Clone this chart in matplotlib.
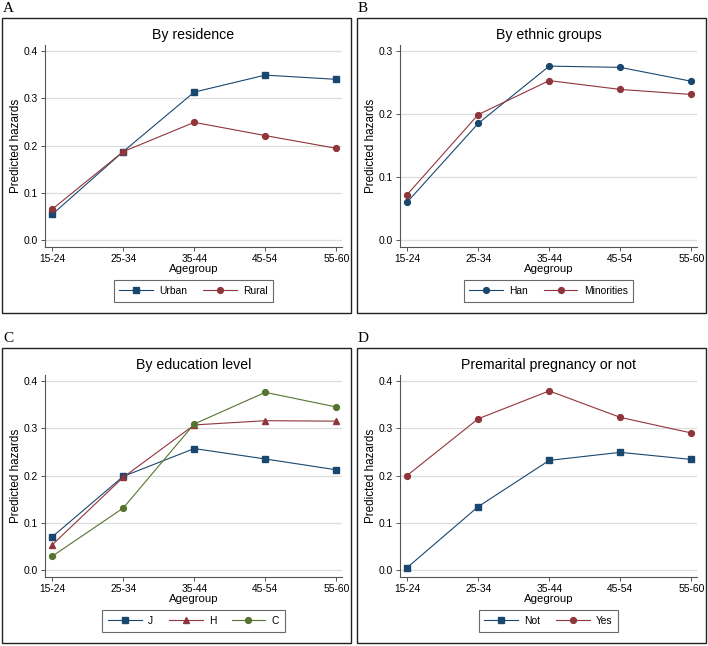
import matplotlib
matplotlib.use("Agg")
import matplotlib.pyplot as plt
from matplotlib.patches import Rectangle

plt.rcParams['font.family'] = ['Liberation Sans', 'DejaVu Sans']

agegroups = ['15-24', '25-34', '35-44', '45-54', '55-60']

urban = [0.054, 0.187, 0.313, 0.349, 0.340]
rural = [0.065, 0.187, 0.249, 0.221, 0.194]

han = [0.060, 0.185, 0.276, 0.274, 0.252]
minorities = [0.072, 0.199, 0.253, 0.239, 0.231]

edu_j = [0.070, 0.198, 0.257, 0.235, 0.212]
edu_h = [0.053, 0.196, 0.307, 0.316, 0.315]
edu_c = [0.029, 0.131, 0.309, 0.376, 0.345]

preg_not = [0.005, 0.134, 0.232, 0.249, 0.234]
preg_yes = [0.200, 0.320, 0.379, 0.323, 0.290]

navy = '#1a476f'
maroon = '#90353b'
green = '#55752f'

W, H = 708, 646
fig = plt.figure(figsize=(W / 100, H / 100), dpi=100)

panels = [
    ('A', 'By residence', 0.4, [0.0, 0.1, 0.2, 0.3, 0.4],
     [(urban, 'Urban', navy, 's'), (rural, 'Rural', maroon, 'o')], 0, 0),
    ('B', 'By ethnic groups', 0.3, [0.0, 0.1, 0.2, 0.3],
     [(han, 'Han', navy, 'o'), (minorities, 'Minorities', maroon, 'o')], 355, 0),
    ('C', 'By education level', 0.4, [0.0, 0.1, 0.2, 0.3, 0.4],
     [(edu_j, 'J', navy, 's'), (edu_h, 'H', maroon, '^'), (edu_c, 'C', green, 'o')], 0, 330),
    ('D', 'Premarital pregnancy or not', 0.4, [0.0, 0.1, 0.2, 0.3, 0.4],
     [(preg_not, 'Not', navy, 's'), (preg_yes, 'Yes', maroon, 'o')], 355, 330),
]

for letter, title, ymax, yticks, series, ox, oy in panels:
    # panel frame
    fig.patches.append(Rectangle(((ox + 2) / W, 1 - (oy + 313) / H), 349 / W, 295 / H,
                                 transform=fig.transFigure, fill=False,
                                 edgecolor='#222222', linewidth=1.0))
    fig.text((ox + 3) / W, 1 - (oy + 9) / H, letter, family='Liberation Serif',
             fontsize=11, va='center', ha='left')

    ax = fig.add_axes([(ox + 45) / W, 1 - (oy + 247) / H, 297 / W, 202 / H])
    x = range(len(agegroups))
    for vals, lab, col, mk in series:
        ms = 4.8 if mk == '^' else 4.2
        ax.plot(x, vals, color=col, marker=mk, markersize=ms, linewidth=0.8, label=lab)

    ax.set_xlim(-0.1, 4.08)
    ax.set_ylim(-ymax * 7 / 189, ymax + ymax * 6 / 189)
    ax.set_xticks(list(x))
    ax.set_xticklabels(agegroups)
    ax.set_yticks(yticks)
    ax.set_yticklabels([f'{v:.1f}' for v in yticks])
    ax.grid(axis='y', color='#dddddd', linewidth=0.9)
    ax.set_axisbelow(True)
    for s in ['top', 'right']:
        ax.spines[s].set_visible(False)
    for s in ['left', 'bottom']:
        ax.spines[s].set_color('#555555')
        ax.spines[s].set_linewidth(0.8)
    ax.tick_params(labelsize=7.4, length=3, width=0.7, color='#555555', pad=2)
    ax.set_title(title, fontsize=10.2, pad=4)
    ax.set_ylabel('Predicted hazards', fontsize=8.4, labelpad=1)
    ax.set_xlabel('Agegroup', fontsize=8.2, labelpad=0)
    leg = ax.legend(loc='upper center', bbox_to_anchor=(0.5, -0.15), ncol=len(series),
                    fontsize=7.4, frameon=True, fancybox=False, edgecolor='#444444',
                    handlelength=3.3, columnspacing=1.5, borderpad=0.55,
                    handletextpad=0.6, borderaxespad=0.3)
    leg.get_frame().set_linewidth(0.8)

fig.savefig('out.png', dpi=100)
